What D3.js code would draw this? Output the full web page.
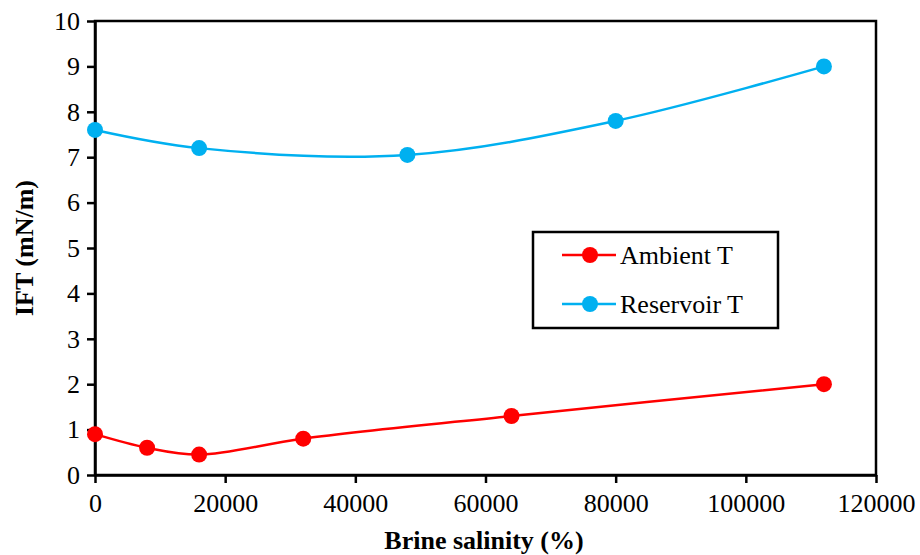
<!DOCTYPE html>
<html><head><meta charset="utf-8">
<script src="https://cdn.jsdelivr.net/npm/d3@7"></script>
<style>body{margin:0;background:#fff}svg{display:block;font-family:"Liberation Serif","Times New Roman",serif}</style>
</head><body><svg id="c" width="920" height="555"></svg>
<script>
const ambientX = [0, 8000, 16000, 32000, 64000, 112000];
const ambientY = [0.9, 0.6, 0.45, 0.8, 1.3, 2.0];
const reservoirX = [0, 16000, 48000, 80000, 112000];
const reservoirY = [7.6, 7.2, 7.05, 7.8, 9.0];
const xTicks = [0, 20000, 40000, 60000, 80000, 100000, 120000];
const yTicks = [0,1,2,3,4,5,6,7,8,9,10];
const seriesNames = ["Ambient T", "Reservoir T"];
const colors = ["#FF0000", "#00B0F0"];

const svg = d3.select("#c");
const L=95, R=876, T=21, B=475;
const FS = 26;
const x = d3.scaleLinear().domain([0,120000]).range([L,R]);
const y = d3.scaleLinear().domain([0,10]).range([B,T]);

svg.append("rect").attr("x",L).attr("y",T).attr("width",R-L).attr("height",B-T)
  .attr("fill","none").attr("stroke","#000").attr("stroke-width",2.5);

const xa = svg.append("g").attr("transform",`translate(0,${B})`)
  .call(d3.axisBottom(x).tickValues(xTicks).tickFormat(d3.format("d")).tickSize(8).tickSizeOuter(0).tickPadding(11));
const ya = svg.append("g").attr("transform",`translate(${L},0)`)
  .call(d3.axisLeft(y).tickValues(yTicks).tickFormat(d3.format("d")).tickSize(8).tickSizeOuter(0).tickPadding(7));
[xa,ya].forEach(a=>{
  a.select(".domain").attr("stroke","#000").attr("stroke-width",2.5);
  a.selectAll(".tick line").attr("stroke","#000").attr("stroke-width",2.5);
  a.selectAll("text").attr("font-size",FS).attr("fill","#000").attr("font-family","Liberation Serif, Times New Roman, serif");
});

svg.append("text").attr("x",484).attr("y",549).attr("text-anchor","middle")
  .attr("font-size",FS).attr("font-weight","bold").text("Brine salinity (%)");
svg.append("text").attr("transform",`translate(33,${(T+B)/2}) rotate(-90)`).attr("text-anchor","middle")
  .attr("font-size",FS).attr("font-weight","bold").text("IFT (mN/m)");

const line = d3.line().x(d=>x(d[0])).y(d=>y(d[1])).curve(d3.curveCatmullRom.alpha(0.5));
const data = [ambientX.map((v,i)=>[v,ambientY[i]]), reservoirX.map((v,i)=>[v,reservoirY[i]])];
data.forEach((d,i)=>{
  svg.append("path").attr("d",line(d)).attr("fill","none").attr("stroke",colors[i]).attr("stroke-width",2.5);
  svg.selectAll(null).data(d).enter().append("circle")
    .attr("cx",p=>x(p[0])).attr("cy",p=>y(p[1])).attr("r",8).attr("fill",colors[i]);
});

const lg = svg.append("g");
lg.append("rect").attr("x",533).attr("y",232).attr("width",245).attr("height",96)
  .attr("fill","#fff").attr("stroke","#000").attr("stroke-width",2.5);
seriesNames.forEach((n,i)=>{
  const cy = 255 + i*49;
  lg.append("line").attr("x1",562).attr("x2",616).attr("y1",cy).attr("y2",cy).attr("stroke",colors[i]).attr("stroke-width",2.5);
  lg.append("circle").attr("cx",590).attr("cy",cy).attr("r",8).attr("fill",colors[i]);
  lg.append("text").attr("x",620).attr("y",cy+9).attr("font-size",FS).text(n);
});
</script></body></html>
